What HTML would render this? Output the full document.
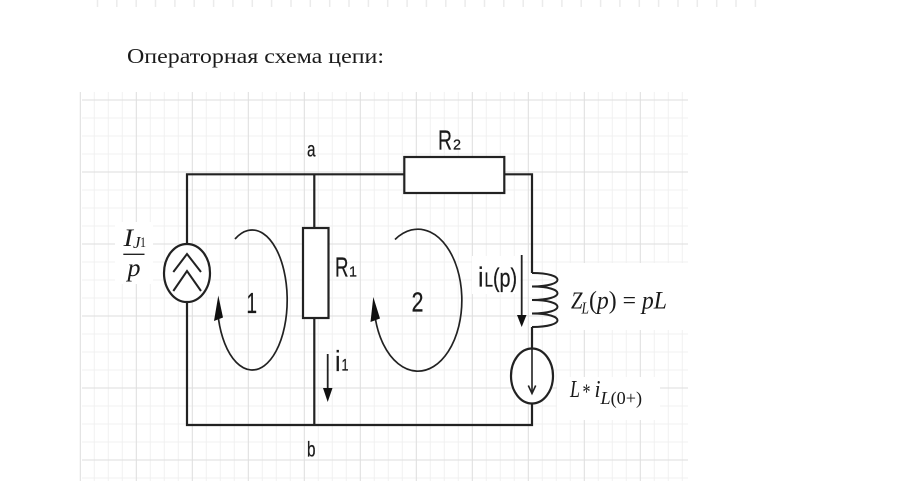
<!DOCTYPE html>
<html>
<head>
<meta charset="utf-8">
<style>
html,body{margin:0;padding:0;background:#fff;}
svg{display:block;}
.s{font-family:"Liberation Sans",sans-serif;fill:#1a1a1a;stroke:#1a1a1a;stroke-width:0.25;}
.m{font-family:"Liberation Serif",serif;font-style:italic;fill:#1a1a1a;}
.u{font-family:"Liberation Serif",serif;font-style:normal;fill:#1a1a1a;}
</style>
</head>
<body>
<svg width="899" height="481" viewBox="0 0 899 481" xmlns="http://www.w3.org/2000/svg">
<rect width="899" height="481" fill="#fff"/>

<!-- top tick strip -->
<g stroke="#ebebeb" stroke-width="1.5">
<path d="M97.5,0V7 M116.8,0V7 M136.2,0V7 M155.5,0V7 M174.9,0V7 M194.2,0V7 M213.6,0V7 M232.9,0V7 M252.3,0V7 M271.6,0V7 M291,0V7 M310.3,0V7 M329.7,0V7 M349,0V7 M368.4,0V7 M387.7,0V7 M407.1,0V7 M426.4,0V7 M445.8,0V7 M465.1,0V7 M484.5,0V7 M503.8,0V7 M523.2,0V7 M542.5,0V7 M561.9,0V7 M581.2,0V7 M600.6,0V7 M619.9,0V7 M639.3,0V7 M658.6,0V7 M678,0V7 M697.3,0V7 M716.7,0V7 M736,0V7 M755.4,0V7"/>
</g>

<!-- title -->
<text x="127" y="63" class="u" font-size="21.5" textLength="257" lengthAdjust="spacingAndGlyphs">Операторная схема цепи:</text>

<!-- grid -->
<g stroke="#f1f1f1" stroke-width="1">
<path d="M94.3,92V481 M108.3,92V481 M122.3,92V481 M150.3,92V481 M164.3,92V481 M178.3,92V481 M206.3,92V481 M220.3,92V481 M234.3,92V481 M262.3,92V481 M276.3,92V481 M290.3,92V481 M318.3,92V481 M332.3,92V481 M346.3,92V481 M374.3,92V481 M388.3,92V481 M402.3,92V481 M430.3,92V481 M444.3,92V481 M458.3,92V481 M486.3,92V481 M500.3,92V481 M514.3,92V481 M542.3,92V481 M556.3,92V481 M570.3,92V481 M598.3,92V481 M612.3,92V481 M626.3,92V481 M654.3,92V481 M668.3,92V481 M682.3,92V481"/>
<path d="M82,118H688 M82,136H688 M82,154H688 M82,190H688 M82,208H688 M82,226H688 M82,262H688 M82,280H688 M82,298H688 M82,334H688 M82,352H688 M82,370H688 M82,406H688 M82,424H688 M82,442H688 M82,478H688"/>
</g>
<g stroke="#dedede" stroke-width="1">
<path d="M80.3,92V481 M136.3,92V481 M192.3,92V481 M248.3,92V481 M304.3,92V481 M360.3,92V481 M416.3,92V481 M472.3,92V481 M528.3,92V481 M584.3,92V481 M640.3,92V481"/>
<path d="M82,100H688 M82,172H688 M82,244H688 M82,316H688 M82,388H688 M82,460H688"/>
</g>

<!-- white label backgrounds -->
<rect x="115" y="222" width="38" height="62" fill="#fff"/>
<rect x="557" y="263" width="131" height="67" fill="#fff"/>
<rect x="557" y="377" width="103" height="43" fill="#fff"/>
<rect x="472" y="256" width="48" height="38" fill="#fff"/>

<!-- wires -->
<g stroke="#222" stroke-width="2.2" fill="none" stroke-linejoin="miter">
<path d="M187,244 V174.3 H404"/>
<path d="M504,174.3 H532 V273"/>
<path d="M532,327 V348.5"/>
<path d="M532,403.5 V425 H187 V302"/>
<path d="M314.3,174.3 V228"/>
<path d="M314.3,318 V425"/>
<rect x="303" y="228" width="25.5" height="90" fill="#fff"/>
<rect x="404.3" y="157" width="100" height="36" fill="#fff"/>
<ellipse cx="187" cy="273" rx="23" ry="29" fill="#fff"/>
<ellipse cx="532" cy="376" rx="21" ry="27.5" fill="#fff"/>
<path d="M532,273 C566,273 566,286.5 532,286.5 C566,286.5 566,300 532,300 C566,300 566,313.5 532,313.5 C566,313.5 566,327 532,327" stroke-width="2"/>
</g>

<!-- chevrons in source 1 -->
<g stroke="#222" stroke-width="2" fill="none">
<polyline points="173.3,272 187,254 201,272"/>
<polyline points="173.3,291 187,271 201,291"/>
</g>

<!-- arrow in source 2 -->
<g stroke="#222" stroke-width="1.6" fill="none">
<path d="M532,348.5 V393.5"/>
<polyline points="528.3,385.5 532,393.5 535.7,385.5"/>
</g>

<!-- loop 1 -->
<path d="M235,239 A35,70 0 1,1 218.5,319" stroke="#222" stroke-width="1.7" fill="none"/>
<polygon points="218.3,295.5 214,321 223,317.5" fill="#111"/>
<!-- loop 2 -->
<path d="M395,239.5 A44,71 0 1,1 375.5,319.5" stroke="#222" stroke-width="1.7" fill="none"/>
<polygon points="373.3,297 370.5,322 380,318.5" fill="#111"/>

<!-- i1 arrow -->
<path d="M327.7,354 V392" stroke="#222" stroke-width="1.8"/>
<polygon points="327.7,402 323,388 332.5,388" fill="#111"/>
<!-- iL arrow -->
<path d="M521.7,255 V318" stroke="#222" stroke-width="1.8"/>
<polygon points="521.7,327 517,315 526.5,315" fill="#111"/>

<!-- labels -->
<text x="307" y="156.5" class="s" font-size="21" textLength="8.5" lengthAdjust="spacingAndGlyphs">a</text>
<text x="307" y="456.5" class="s" font-size="21" textLength="8.5" lengthAdjust="spacingAndGlyphs">b</text>

<text x="438" y="149.5" class="s" font-size="28" textLength="14" lengthAdjust="spacingAndGlyphs">R</text>
<text x="453" y="149.5" class="s" font-size="15" textLength="8" lengthAdjust="spacingAndGlyphs">2</text>

<text x="335" y="276.5" class="s" font-size="28" textLength="13.5" lengthAdjust="spacingAndGlyphs">R</text>
<text x="349" y="276.5" class="s" font-size="15" textLength="8" lengthAdjust="spacingAndGlyphs">1</text>

<text x="246.5" y="313" class="s" font-size="29" textLength="10.5" lengthAdjust="spacingAndGlyphs">1</text>
<text x="411.5" y="311.5" class="s" font-size="28" textLength="12" lengthAdjust="spacingAndGlyphs">2</text>

<text x="335" y="371" class="s" font-size="29" textLength="5.5" lengthAdjust="spacingAndGlyphs">i</text>
<text x="341.5" y="370.5" class="s" font-size="17" textLength="7" lengthAdjust="spacingAndGlyphs">1</text>

<text x="478" y="286.5" class="s" font-size="28" textLength="5.5" lengthAdjust="spacingAndGlyphs">i</text>
<text x="484.5" y="286.5" class="s" font-size="20" textLength="8.5" lengthAdjust="spacingAndGlyphs">L</text>
<text x="493" y="286.5" class="s" font-size="26" textLength="24" lengthAdjust="spacingAndGlyphs">(p)</text>

<!-- I_J1 / p -->
<text x="123.5" y="246" class="m" font-size="25" textLength="9.5" lengthAdjust="spacingAndGlyphs">I</text>
<text x="133" y="248" class="m" font-size="17" textLength="7.5" lengthAdjust="spacingAndGlyphs">J</text>
<text x="140" y="247" class="u" font-size="15" textLength="6" lengthAdjust="spacingAndGlyphs">1</text>
<path d="M123.3,254.3 H144.5" stroke="#222" stroke-width="1.4"/>
<text x="127.5" y="276" class="m" font-size="25" textLength="13" lengthAdjust="spacingAndGlyphs">p</text>

<!-- Z_L(p) = pL -->
<text x="571" y="308.5" class="m" font-size="24" textLength="11.5" lengthAdjust="spacingAndGlyphs">Z</text>
<text x="581.5" y="313.5" class="m" font-size="17" textLength="7.5" lengthAdjust="spacingAndGlyphs">L</text>
<text x="589" y="308.5" class="u" font-size="25" textLength="78" lengthAdjust="spacingAndGlyphs">(<tspan class="m">p</tspan>) = <tspan class="m">pL</tspan></text>

<!-- L * i_L(0+) -->
<text x="570" y="397" class="m" font-size="24" textLength="10" lengthAdjust="spacingAndGlyphs">L</text>
<text x="582.5" y="399" class="u" font-size="22" textLength="8" lengthAdjust="spacingAndGlyphs">*</text>
<text x="594.5" y="397" class="m" font-size="24" textLength="6" lengthAdjust="spacingAndGlyphs">i</text>
<text x="600.5" y="404" class="u" font-size="18" textLength="41.5" lengthAdjust="spacingAndGlyphs"><tspan class="m">L</tspan>(0+)</text>
</svg>
</body>
</html>
